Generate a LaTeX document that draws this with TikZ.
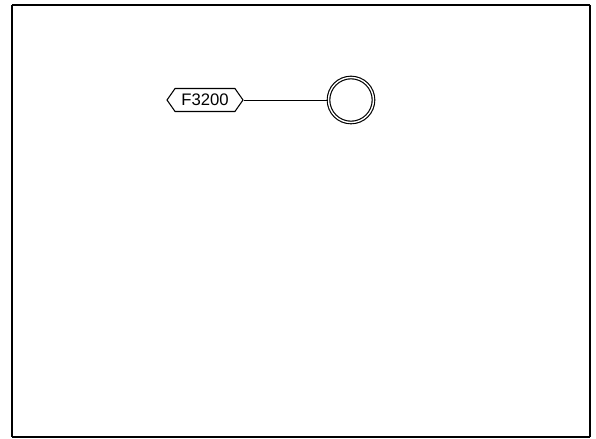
\documentclass[tikz,border=0pt]{standalone}
\usepackage{fontspec}
\setmainfont{Liberation Sans}
\usetikzlibrary{shapes.symbols, positioning}

\begin{document}
\begin{tikzpicture}[
  x=0.02cm, y=-0.02cm,
  font=\fontsize{9.5pt}{11pt}\selectfont,
  tag/.style={draw, signal, signal to=west and east, signal pointer angle=110,
              minimum height=0.46cm, minimum width=1.52cm, inner sep=1pt, line width=0.6pt},
  ring/.style={draw, circle, double, double distance=0.8pt, line width=0.65pt,
               minimum size=0.9cm, inner sep=0pt},
  link/.style={line width=0.5pt},
]
\useasboundingbox (0,0) rectangle (596,439);

%% frame
\draw[line width=1.4pt] (12,5) -- (590,5);
\draw[line width=0.9pt] (12,5) -- (12,437);
\draw[line width=1.1pt] (590,5) -- (590,437);
\draw[line width=0.6pt] (12,437) -- (590,437);

%% tag and junction
\node[tag] (f3200) at (205,100) {F3200};
\node[ring] (junction) at (351,100) {};

\draw[link] (f3200.east) -- (junction.west);

\end{tikzpicture}
\end{document}
